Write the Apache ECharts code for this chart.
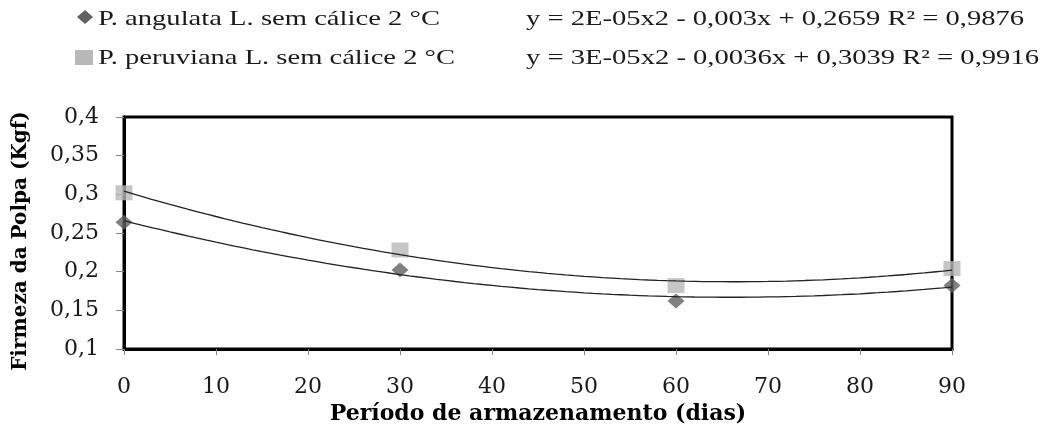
<!DOCTYPE html>
<html>
<head>
<meta charset="utf-8">
<script src="https://cdn.jsdelivr.net/npm/echarts@6/dist/echarts.min.js"></script>
<style>
html,body{margin:0;padding:0;background:#fff;}
#chart{width:1048px;height:435px;}
</style>
</head>
<body>
<div id="chart"></div>
<script>
// ---- data ----
const days = [0, 30, 60, 90];
const angulata = [0.264, 0.202, 0.162, 0.182];
const peruviana = [0.302, 0.228, 0.182, 0.204];
const seriesNames = ['P. angulata L. sem cálice 2 °C', 'P. peruviana L. sem cálice 2 °C'];
const equations = ['y = 2E-05x2 - 0,003x + 0,2659 R² = 0,9876', 'y = 3E-05x2 - 0,0036x + 0,3039 R² = 0,9916'];
const yTicks = [0.1, 0.15, 0.2, 0.25, 0.3, 0.35, 0.4];
const xTicks = [0, 10, 20, 30, 40, 50, 60, 70, 80, 90];

// polynomial (order 2) least-squares trendline, as in the original spreadsheet
function quadFit(xs, ys) {
  let S = [0,0,0,0,0], T = [0,0,0];
  for (let i = 0; i < xs.length; i++) {
    let p = 1;
    for (let k = 0; k < 5; k++) { S[k] += p; if (k < 3) T[k] += p * ys[i]; p *= xs[i]; }
  }
  const A = [[S[0],S[1],S[2],T[0]],[S[1],S[2],S[3],T[1]],[S[2],S[3],S[4],T[2]]];
  for (let c = 0; c < 3; c++) {
    for (let r = c + 1; r < 3; r++) {
      const f = A[r][c] / A[c][c];
      for (let k = c; k < 4; k++) A[r][k] -= f * A[c][k];
    }
  }
  const b = [0,0,0];
  for (let r = 2; r >= 0; r--) {
    let s = A[r][3];
    for (let k = r + 1; k < 3; k++) s -= A[r][k] * b[k];
    b[r] = s / A[r][r];
  }
  return b;
}
function trend(xs, ys) {
  const c = quadFit(xs, ys), out = [];
  for (let x = xs[0]; x <= xs[xs.length - 1]; x += 1) out.push([x, c[0] + c[1] * x + c[2] * x * x]);
  return out;
}

const FONT = 'DejaVu Serif';
const TFONT = 'Liberation Serif';
const TSIZE = 22;
const measureCtx = document.createElement('canvas').getContext('2d');
measureCtx.font = TSIZE + 'px "' + TFONT + '"';
function stretchedText(text, x, y, targetWidth) {
  const w = measureCtx.measureText(text).width;
  return {type: 'text', x: x, y: y, scaleX: targetWidth / w, silent: true,
    style: {text: text, x: 0, y: 0, fontFamily: TFONT, fontSize: TSIZE, fill: '#1a1a1a', align: 'left', verticalAlign: 'middle'}};
}

const chart = echarts.init(document.getElementById('chart'), null, {renderer: 'canvas'});
chart.setOption({
  animation: false,
  backgroundColor: '#ffffff',
  textStyle: {fontFamily: FONT, color: '#1a1a1a'},
  grid: {left: 124, right: 96, top: 117, bottom: 86, show: true, borderColor: '#000', borderWidth: 3, backgroundColor: 'transparent'},
  graphic: [
    {type: 'polygon', silent: true, shape: {points: [[85, 10], [93, 17], [85, 24], [77, 17]]}, style: {fill: '#606060'}},
    {type: 'rect', silent: true, shape: {x: 75, y: 50, width: 18, height: 15}, style: {fill: '#b8b8b8'}},
    stretchedText(seriesNames[0], 98, 19.5, 342),
    stretchedText(seriesNames[1], 98, 58, 357),
    stretchedText(equations[0], 526, 19.5, 498),
    stretchedText(equations[1], 526, 58.5, 513)
  ],
  xAxis: {
    type: 'value', min: 0, max: 90, interval: 10,
    name: 'Período de armazenamento (dias)', nameLocation: 'middle', nameGap: 46,
    nameTextStyle: {fontFamily: FONT, fontWeight: 'bold', fontSize: 22, color: '#000'},
    axisLine: {lineStyle: {color: '#000', width: 3}},
    axisTick: {show: true, length: 6, lineStyle: {color: '#888'}},
    axisLabel: {margin: 27, fontSize: 22, color: '#1a1a1a', customValues: xTicks},
    splitLine: {show: false}
  },
  yAxis: {
    type: 'value', min: 0.1, max: 0.4, interval: 0.05,
    name: 'Firmeza da Polpa (Kgf)', nameLocation: 'middle', nameGap: 93,
    nameTextStyle: {fontFamily: FONT, fontWeight: 'bold', fontSize: 20, color: '#000', padding: [0, 16, 0, 0]},
    axisLine: {lineStyle: {color: '#000', width: 3}},
    axisTick: {show: true, length: 8, lineStyle: {color: '#888'}},
    axisLabel: {margin: 25, fontSize: 22, color: '#1a1a1a',
      formatter: v => String(+(+v).toFixed(2)).replace('.', ',')},
    splitLine: {show: false}
  },
  series: [
    {name: seriesNames[0], type: 'scatter', symbol: 'diamond', symbolSize: [17, 15], z: 3,
      itemStyle: {color: '#606060'}, data: days.map((d, i) => [d, angulata[i]])},
    {name: seriesNames[1], type: 'scatter', symbol: 'rect', symbolSize: [17, 15], z: 3,
      itemStyle: {color: '#b8b8b8'}, data: days.map((d, i) => [d, peruviana[i]])},
    {name: 'trend1', type: 'line', showSymbol: false, smooth: false, z: 4, silent: true,
      lineStyle: {color: '#222', width: 1.3}, data: trend(days, angulata)},
    {name: 'trend2', type: 'line', showSymbol: false, smooth: false, z: 4, silent: true,
      lineStyle: {color: '#222', width: 1.3}, data: trend(days, peruviana)}
  ]
});
</script>
</body>
</html>
